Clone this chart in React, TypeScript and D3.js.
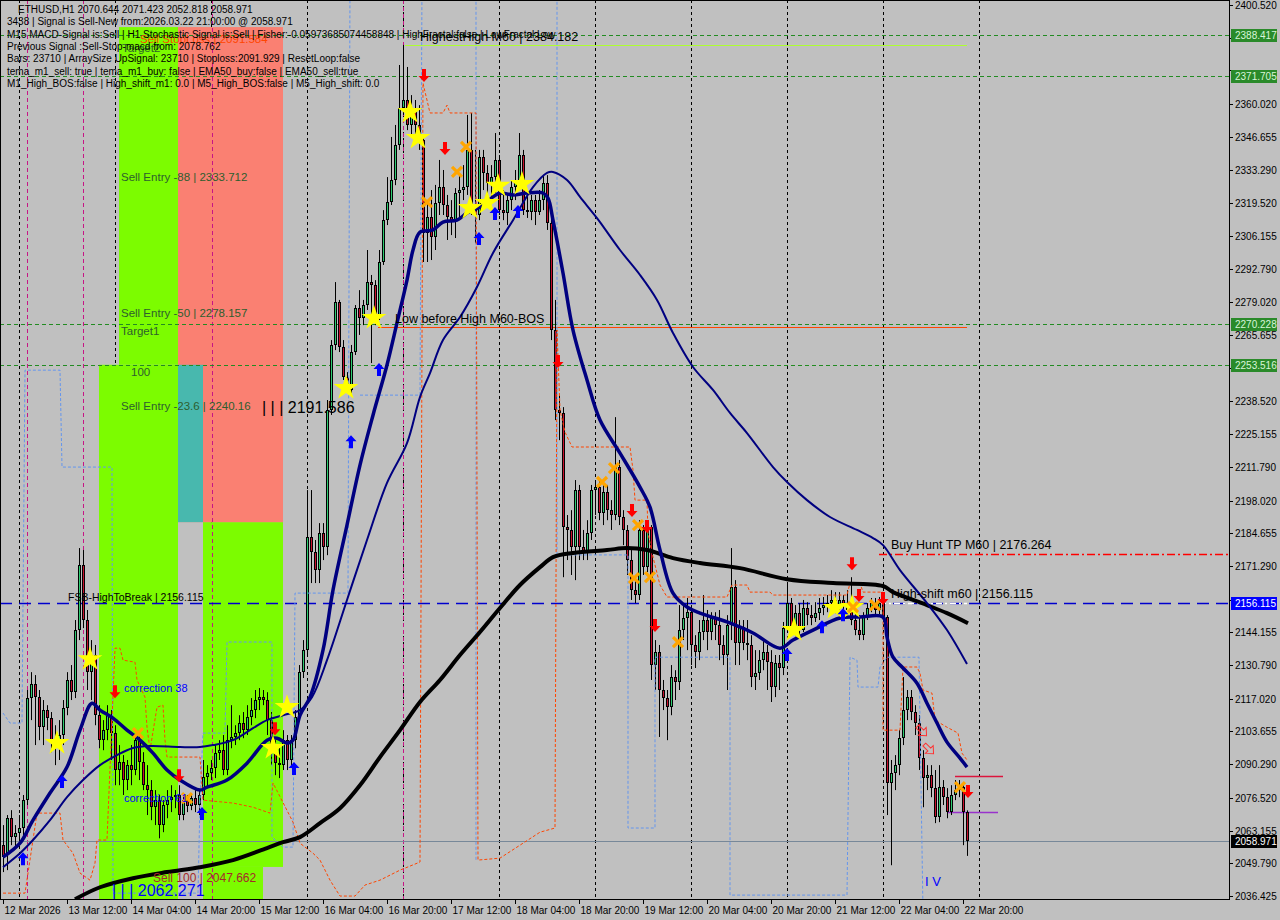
import React, { useEffect, useRef } from 'react';
import * as d3 from 'd3';

const W = 1280;
const H = 920;
const PLOT_R = 1229;
const PLOT_B = 899;

// ETHUSD H1 bars from 12 Mar 20:00 to 22 Mar 21:00 -> [open, high, low, close]
const bars: number[][] = [
  [2057.2, 2065.4, 2046.2, 2052.3], [2053.1, 2069.5, 2047.0, 2068.2], [2068.2, 2071.5, 2057.2, 2060.5], [2060.5, 2065.4, 2056.0, 2062.1],
  [2062.1, 2069.5, 2059.3, 2064.2], [2064.2, 2077.7, 2061.3, 2075.6], [2075.6, 2120.6, 2073.6, 2117.3], [2117.3, 2127.9, 2108.3, 2123.0],
  [2123.0, 2126.7, 2098.1, 2117.7], [2117.7, 2120.6, 2100.1, 2105.4], [2105.4, 2116.5, 2098.1, 2112.4], [2112.4, 2114.4, 2104.2, 2109.1],
  [2109.1, 2111.6, 2095.2, 2100.1], [2100.1, 2106.2, 2089.9, 2098.1], [2098.1, 2108.3, 2092.0, 2102.2], [2102.2, 2116.5, 2098.1, 2113.2],
  [2113.2, 2127.9, 2110.3, 2124.7], [2124.7, 2130.8, 2116.5, 2119.7], [2119.7, 2149.2, 2117.3, 2145.1], [2145.1, 2178.6, 2141.0, 2171.6],
  [2171.6, 2177.8, 2145.9, 2149.2], [2149.2, 2153.3, 2120.6, 2127.9], [2127.9, 2141.0, 2116.5, 2134.9], [2134.9, 2139.0, 2106.2, 2110.3],
  [2110.3, 2114.4, 2096.8, 2100.1], [2100.1, 2108.3, 2096.0, 2104.2], [2104.2, 2114.4, 2100.1, 2110.3], [2110.3, 2112.4, 2092.0, 2103.0],
  [2103.0, 2106.2, 2081.7, 2087.9], [2087.9, 2098.1, 2081.7, 2091.1], [2091.1, 2094.0, 2077.7, 2083.8], [2083.8, 2092.0, 2079.7, 2089.9],
  [2089.9, 2098.1, 2081.7, 2087.9], [2087.9, 2102.2, 2085.8, 2100.1], [2100.1, 2102.2, 2083.8, 2091.1], [2091.1, 2095.2, 2079.7, 2081.7],
  [2081.7, 2089.9, 2069.5, 2079.7], [2079.7, 2083.8, 2067.4, 2072.7], [2072.7, 2079.7, 2065.4, 2075.6], [2075.6, 2077.7, 2060.0, 2065.4],
  [2065.4, 2075.6, 2062.5, 2073.6], [2073.6, 2079.7, 2068.2, 2075.6], [2075.6, 2081.7, 2070.7, 2076.8], [2076.8, 2079.7, 2072.3, 2077.7],
  [2077.7, 2081.7, 2067.4, 2069.5], [2069.5, 2077.7, 2067.4, 2075.6], [2075.6, 2077.7, 2070.7, 2073.2], [2073.2, 2078.5, 2071.5, 2076.4],
  [2076.4, 2079.7, 2070.7, 2073.6], [2073.6, 2079.7, 2069.5, 2077.7], [2077.7, 2092.0, 2075.6, 2085.0], [2085.0, 2089.9, 2080.5, 2086.6],
  [2086.6, 2092.0, 2083.8, 2088.7], [2088.7, 2098.1, 2084.6, 2094.8], [2094.8, 2100.1, 2092.0, 2096.0], [2096.0, 2102.2, 2085.8, 2087.9],
  [2087.9, 2106.2, 2085.8, 2100.1], [2100.1, 2114.4, 2096.8, 2101.4], [2101.4, 2106.2, 2098.1, 2103.0], [2103.0, 2110.3, 2100.1, 2107.1],
  [2107.1, 2111.6, 2100.9, 2104.2], [2104.2, 2114.4, 2102.2, 2109.5], [2109.5, 2117.3, 2106.2, 2112.4], [2112.4, 2120.6, 2109.1, 2116.5],
  [2116.5, 2121.4, 2112.4, 2117.7], [2117.7, 2120.6, 2114.4, 2116.5], [2116.5, 2119.7, 2102.2, 2108.3], [2108.3, 2111.6, 2089.9, 2096.0],
  [2096.0, 2100.1, 2085.8, 2090.7], [2090.7, 2096.9, 2084.6, 2089.9], [2089.9, 2104.2, 2087.9, 2100.1], [2100.1, 2102.2, 2087.9, 2092.0],
  [2092.0, 2102.2, 2088.7, 2100.1], [2100.1, 2112.4, 2096.8, 2109.5], [2109.5, 2130.8, 2108.3, 2127.9], [2127.9, 2141.0, 2125.5, 2136.9],
  [2136.9, 2202.3, 2134.9, 2183.1], [2183.1, 2202.3, 2164.3, 2177.0], [2177.0, 2181.9, 2164.3, 2169.6], [2169.6, 2188.8, 2164.3, 2184.7],
  [2184.7, 2188.8, 2173.7, 2179.0], [2179.0, 2239.1, 2175.7, 2235.0], [2235.0, 2263.6, 2233.0, 2261.6], [2261.6, 2287.3, 2259.5, 2279.2],
  [2279.2, 2280.0, 2258.7, 2260.7], [2260.7, 2263.6, 2247.3, 2248.5], [2248.5, 2250.5, 2242.0, 2243.2], [2243.2, 2261.6, 2241.1, 2258.7],
  [2258.7, 2277.9, 2257.5, 2276.7], [2276.7, 2284.0, 2265.7, 2272.6], [2272.6, 2280.0, 2269.7, 2277.9], [2277.9, 2300.4, 2275.9, 2287.3],
  [2287.3, 2290.2, 2254.2, 2286.1], [2286.1, 2288.1, 2269.7, 2273.8], [2273.8, 2300.4, 2271.8, 2295.5], [2295.5, 2316.7, 2294.3, 2312.6],
  [2312.6, 2330.2, 2310.6, 2320.0], [2320.0, 2346.6, 2318.8, 2329.0], [2329.0, 2351.5, 2326.9, 2343.3], [2343.3, 2376.0, 2341.3, 2358.4],
  [2358.4, 2384.2, 2355.6, 2361.7], [2361.7, 2375.2, 2349.4, 2351.5], [2351.5, 2363.7, 2347.4, 2358.4], [2358.4, 2361.7, 2345.3, 2351.5],
  [2351.5, 2359.6, 2341.3, 2345.3], [2345.3, 2347.4, 2295.5, 2307.3], [2307.3, 2320.8, 2295.5, 2313.9], [2313.9, 2324.9, 2296.3, 2305.7],
  [2305.7, 2327.0, 2300.4, 2319.6], [2319.6, 2337.2, 2314.7, 2326.1], [2326.1, 2333.1, 2314.7, 2318.8], [2318.8, 2322.9, 2304.5, 2313.9],
  [2313.9, 2320.8, 2306.5, 2311.8], [2311.8, 2325.7, 2305.3, 2323.7], [2323.7, 2331.0, 2312.6, 2324.9], [2324.9, 2335.1, 2320.8, 2326.1],
  [2326.1, 2355.6, 2322.9, 2341.3], [2341.3, 2356.4, 2314.7, 2318.0], [2318.0, 2341.3, 2303.2, 2314.7], [2314.7, 2341.3, 2312.6, 2338.4],
  [2338.4, 2341.3, 2324.9, 2331.9], [2331.9, 2335.1, 2322.9, 2327.8], [2327.8, 2335.1, 2320.8, 2330.2], [2330.2, 2348.2, 2323.7, 2337.2],
  [2337.2, 2339.2, 2314.7, 2316.7], [2316.7, 2324.9, 2312.6, 2315.5], [2315.5, 2322.9, 2310.6, 2320.8], [2320.8, 2329.0, 2316.7, 2326.1],
  [2326.1, 2333.1, 2320.8, 2327.8], [2327.8, 2348.2, 2324.9, 2339.2], [2339.2, 2341.3, 2314.7, 2316.7], [2316.7, 2322.9, 2313.5, 2315.9],
  [2315.9, 2322.9, 2312.6, 2320.8], [2320.8, 2322.9, 2310.6, 2315.9], [2315.9, 2324.9, 2314.7, 2320.8], [2320.8, 2331.0, 2316.7, 2327.8],
  [2327.8, 2331.0, 2308.6, 2311.4], [2311.4, 2314.7, 2263.6, 2267.7], [2267.7, 2280.0, 2230.9, 2235.0], [2235.0, 2241.1, 2222.7, 2233.8],
  [2233.8, 2236.2, 2166.7, 2187.2], [2187.2, 2192.1, 2173.7, 2186.0], [2186.0, 2194.1, 2167.6, 2179.0], [2179.0, 2206.4, 2165.5, 2202.3],
  [2202.3, 2204.4, 2173.7, 2179.0], [2179.0, 2186.0, 2173.7, 2177.0], [2177.0, 2190.0, 2173.7, 2184.7], [2184.7, 2204.4, 2181.9, 2202.3],
  [2202.3, 2206.4, 2192.1, 2203.5], [2203.5, 2206.4, 2190.0, 2192.9], [2192.9, 2204.4, 2188.0, 2201.5], [2201.5, 2204.4, 2190.0, 2194.1],
  [2194.1, 2198.2, 2186.0, 2192.1], [2192.1, 2232.1, 2190.0, 2211.7], [2211.7, 2214.6, 2188.0, 2191.3], [2191.3, 2194.1, 2179.8, 2186.0],
  [2186.0, 2188.0, 2167.6, 2173.7], [2173.7, 2177.8, 2157.4, 2161.4], [2161.4, 2167.6, 2156.1, 2159.4], [2159.4, 2190.0, 2157.4, 2186.0],
  [2186.0, 2188.0, 2167.6, 2170.8], [2170.8, 2189.2, 2168.8, 2187.2], [2187.2, 2188.0, 2124.7, 2130.8], [2130.8, 2141.0, 2120.6, 2136.1],
  [2136.1, 2139.0, 2101.4, 2120.6], [2120.6, 2124.7, 2112.4, 2117.3], [2117.3, 2120.6, 2100.1, 2113.6], [2113.6, 2130.8, 2110.3, 2125.9],
  [2125.9, 2128.7, 2116.5, 2123.8], [2123.8, 2155.3, 2120.6, 2145.1], [2145.1, 2155.3, 2141.0, 2150.0], [2150.0, 2158.2, 2136.9, 2152.4],
  [2152.4, 2155.3, 2130.8, 2138.9], [2138.9, 2143.0, 2129.6, 2136.1], [2136.1, 2149.2, 2132.8, 2144.3], [2144.3, 2159.4, 2141.0, 2149.2],
  [2149.2, 2153.3, 2136.9, 2144.3], [2144.3, 2152.4, 2141.0, 2150.0], [2150.0, 2152.4, 2141.0, 2147.1], [2147.1, 2153.3, 2132.8, 2138.9],
  [2138.9, 2143.0, 2130.8, 2134.9], [2134.9, 2151.2, 2120.6, 2147.1], [2147.1, 2178.6, 2141.0, 2162.7], [2162.7, 2165.5, 2130.8, 2139.8],
  [2139.8, 2149.2, 2130.8, 2146.3], [2146.3, 2149.2, 2136.9, 2139.8], [2139.8, 2149.2, 2132.8, 2138.9], [2138.9, 2143.0, 2121.8, 2125.9],
  [2125.9, 2136.9, 2120.6, 2127.5], [2127.5, 2136.9, 2124.7, 2132.8], [2132.8, 2141.0, 2128.7, 2136.1], [2136.1, 2139.0, 2120.6, 2132.0],
  [2132.0, 2136.9, 2115.7, 2121.8], [2121.8, 2134.9, 2117.7, 2131.6], [2131.6, 2134.9, 2120.6, 2129.6], [2129.6, 2148.4, 2126.7, 2145.9],
  [2145.9, 2164.7, 2144.3, 2156.1], [2156.1, 2158.2, 2143.0, 2145.1], [2145.1, 2155.3, 2142.6, 2152.0], [2152.0, 2156.1, 2143.0, 2145.1],
  [2145.1, 2157.4, 2144.3, 2154.1], [2154.1, 2156.5, 2147.1, 2151.2], [2151.2, 2155.3, 2147.1, 2150.0], [2150.0, 2156.5, 2148.4, 2152.0],
  [2152.0, 2158.2, 2149.2, 2154.1], [2154.1, 2158.6, 2151.2, 2155.3], [2155.3, 2159.4, 2152.4, 2156.1], [2156.1, 2161.4, 2152.4, 2157.4],
  [2157.4, 2160.6, 2152.0, 2154.1], [2154.1, 2160.6, 2152.4, 2157.4], [2157.4, 2159.4, 2153.3, 2155.3], [2155.3, 2161.4, 2152.4, 2153.3],
  [2153.3, 2166.7, 2147.1, 2149.2], [2149.2, 2152.4, 2143.0, 2145.1], [2145.1, 2151.2, 2141.0, 2143.0], [2143.0, 2152.4, 2141.0, 2150.4],
  [2150.4, 2156.1, 2149.2, 2154.1], [2154.1, 2158.2, 2152.4, 2156.1], [2156.1, 2158.2, 2151.2, 2153.3], [2153.3, 2158.6, 2151.6, 2156.1],
  [2156.1, 2158.2, 2148.4, 2150.4], [2150.4, 2151.2, 2069.5, 2082.6], [2082.6, 2092.0, 2049.0, 2086.6], [2086.6, 2094.0, 2079.7, 2089.9],
  [2089.9, 2104.2, 2085.8, 2100.9], [2100.9, 2125.9, 2098.1, 2112.4], [2112.4, 2120.6, 2108.3, 2117.7], [2117.7, 2120.6, 2108.3, 2111.6],
  [2111.6, 2114.4, 2102.2, 2107.1], [2107.1, 2110.3, 2087.9, 2092.8], [2092.8, 2096.0, 2072.7, 2084.6], [2084.6, 2089.9, 2079.7, 2085.8],
  [2085.8, 2089.9, 2076.8, 2080.5], [2080.5, 2087.9, 2066.2, 2068.7], [2068.7, 2089.9, 2066.6, 2080.9], [2080.9, 2083.8, 2073.6, 2076.8],
  [2076.8, 2080.5, 2068.2, 2070.7], [2070.7, 2081.7, 2069.5, 2077.7], [2077.7, 2083.8, 2075.6, 2079.7], [2079.7, 2083.8, 2076.8, 2080.9],
  [2080.9, 2082.9, 2057.2, 2070.6], [2070.644, 2071.423, 2052.818, 2058.971],
];

// bottom axis, one label every 16 bars
const timeLabels = [
  '12 Mar 2026', '13 Mar 12:00', '14 Mar 04:00', '14 Mar 20:00', '15 Mar 12:00', '16 Mar 04:00', '16 Mar 20:00', '17 Mar 12:00',
  '18 Mar 04:00', '18 Mar 20:00', '19 Mar 12:00', '20 Mar 04:00', '20 Mar 20:00', '21 Mar 12:00', '22 Mar 04:00', '22 Mar 20:00',
];

const priceTicks = [
  2400.52, 2387.155, 2373.79, 2360.02, 2346.655, 2333.29, 2319.52, 2306.155, 2292.79, 2279.02, 2265.655, 2252.29, 2238.52, 2225.155,
  2211.79, 2198.02, 2184.655, 2171.29, 2157.52, 2144.155, 2130.79, 2117.02, 2103.655, 2090.29, 2076.52, 2063.155, 2049.79, 2036.425,
];

// moving averages, [bar, price]
const fastEma: number[][] = [
  [0, 2052.3], [4.25, 2058.0], [7.5, 2067.4], [11.75, 2078.5], [16, 2089.1], [19.25, 2104.2], [22.25, 2115.2], [24.25, 2112.4],
  [27.5, 2109.1], [31, 2104.2], [34.25, 2100.1], [37.5, 2094.8], [41, 2087.9], [44.25, 2083.8], [49.25, 2079.7], [51, 2080.9],
  [56, 2083.8], [61, 2090.7], [66, 2100.1], [68.5, 2100.9], [71, 2098.9], [72.5, 2100.1], [74.25, 2110.3], [76.75, 2117.7],
  [80, 2136.9], [82.5, 2161.4], [86, 2188.0], [89.25, 2212.5], [92.5, 2232.9], [96, 2253.4], [98.5, 2270.6], [101, 2288.1],
  [102.5, 2300.4], [104.25, 2307.7], [107.5, 2308.6], [110, 2311.8], [113.5, 2312.6], [116, 2315.5], [119.25, 2318.0], [122.5, 2322.1],
  [124.25, 2323.7], [127.5, 2322.9], [131, 2323.7], [135, 2323.7], [136.25, 2321.6], [137.5, 2312.6], [140, 2291.0], [142.5, 2267.7],
  [146, 2247.3], [149.25, 2230.9], [154.25, 2217.4], [159.25, 2203.5], [161.75, 2195.3], [164.25, 2177.8], [167.5, 2160.2], [171, 2154.5],
  [174.25, 2152.0], [181, 2148.4], [187.5, 2143.9], [194.25, 2137.7], [197.5, 2141.0], [202.5, 2145.1], [209.25, 2150.0], [214.25, 2150.4],
  [220, 2150.4], [221, 2142.2], [222.5, 2134.0], [225, 2129.6], [228.5, 2123.4], [231, 2115.2], [233.5, 2107.1], [236, 2099.3],
  [239.25, 2092.8], [241, 2089.1],
];

const slowEma: number[][] = [
  [0, 2048.2], [4.25, 2053.9], [7.5, 2059.3], [11.75, 2067.4], [16, 2076.8], [20, 2083.8], [24.25, 2089.9], [28.5, 2094.0],
  [32.5, 2096.9], [36.75, 2097.7], [44.25, 2097.3], [49.25, 2097.3], [52.5, 2098.1], [57.5, 2100.1], [62.5, 2105.0], [66, 2108.3],
  [70, 2110.3], [74.25, 2112.4], [77.25, 2117.7], [81, 2132.8], [86, 2157.4], [91, 2181.9], [96, 2205.2], [101, 2221.5],
  [104.25, 2240.3], [106.75, 2250.1], [110, 2263.6], [114.25, 2273.0], [118.5, 2285.3], [122.5, 2299.2], [127.5, 2312.6], [132.5, 2326.1],
  [136, 2331.9], [137.5, 2332.3], [141, 2329.0], [144.25, 2322.1], [147.5, 2315.5], [149.25, 2311.8], [154.25, 2300.4], [159.25, 2290.2],
  [163.5, 2280.0], [167.5, 2266.5], [172.5, 2252.6], [177.5, 2243.2], [181.75, 2233.8], [186, 2225.6], [192.5, 2211.7], [196, 2205.6],
  [201, 2198.2], [206.75, 2191.3], [213.5, 2186.0], [217.5, 2182.7], [220, 2179.8], [224.25, 2169.6], [231, 2156.1], [236, 2145.1],
  [241, 2131.2],
];

const ema200: number[][] = [
  [18, 2035.1], [24.25, 2040.0], [32.5, 2043.7], [41, 2046.2], [49.25, 2048.2], [57.5, 2051.1], [66, 2056.0], [70, 2058.4],
  [74.25, 2060.5], [79.25, 2066.2], [84.25, 2072.3], [89.25, 2081.7], [94.25, 2093.2], [99.25, 2104.2], [104.25, 2115.7], [109.25, 2124.7],
  [114.25, 2134.9], [119.25, 2144.3], [124.25, 2154.1], [129.25, 2163.5], [134.25, 2170.8], [137.5, 2174.9], [142.5, 2176.6], [151, 2177.8],
  [156, 2178.6], [161, 2177.8], [167.5, 2174.5], [174.25, 2172.5], [184.25, 2170.4], [196, 2165.9], [207.5, 2164.3], [220, 2163.1],
  [222.5, 2160.6], [231, 2155.3], [236, 2152.0], [241.25, 2147.9],
];

// orange trailing stop (dashed step line)
const trailStop: number[][] = [
  [0, 2037.6], [5.5, 2037.6], [8.5, 2070.3], [14.25, 2070.3], [15, 2059.3], [17.5, 2053.9], [19.25, 2045.8], [21.75, 2042.9],
  [23, 2049.9], [23.5, 2059.3], [26, 2059.3], [28, 2137.7], [29.25, 2137.7], [30, 2132.8], [33, 2132.0], [33.5, 2124.7],
  [35.5, 2117.7], [36, 2105.4], [36.75, 2096.0], [38.5, 2113.6], [40, 2114.4], [40.5, 2100.1], [41, 2093.2], [49.25, 2093.2],
  [50, 2075.6], [57.5, 2074.4], [62.5, 2072.7], [66.75, 2070.3], [67.5, 2082.6], [72.5, 2066.6], [74.25, 2058.0], [77.5, 2053.9],
  [79.25, 2051.1], [81.75, 2042.9], [84.25, 2036.4], [88, 2036.4], [90.5, 2040.9], [94.25, 2042.9], [99.25, 2047.0], [104.25, 2050.3],
  [105, 2368.6], [106.75, 2356.4], [110, 2356.4], [111, 2359.6], [111.75, 2356.4], [118.25, 2356.4], [118.75, 2051.1], [124.25, 2051.9],
  [129.25, 2057.2], [134.25, 2062.5], [138, 2064.2], [138.5, 2267.7], [139.25, 2235.0], [140.5, 2226.0], [142.25, 2219.9], [156.75, 2219.9],
  [157.5, 2210.5], [158, 2198.2], [161, 2198.2], [161.25, 2184.7], [162.5, 2174.9], [164.25, 2163.5], [166, 2158.6], [181, 2158.6],
  [182.25, 2163.5], [186, 2163.5], [186.75, 2160.6], [191.75, 2160.6], [192.5, 2159.4], [211, 2159.4], [211.75, 2164.3], [214.25, 2164.3],
  [215, 2160.6], [220, 2160.6], [220, 2104.2], [224.25, 2104.2], [225, 2130.0], [228.5, 2130.0], [229.25, 2127.5], [230, 2120.6],
  [232.25, 2119.3], [233, 2108.3], [236, 2105.4], [238.75, 2103.0], [239.75, 2094.8], [241, 2092.0],
];

// light blue dashed channel pieces
const channelA: number[][] = [
  [0, 2111.2], [1.75, 2107.1], [4.75, 2107.1], [5.5, 2251.3], [14.25, 2251.3], [14.75, 2211.7], [27.25, 2211.7], [27.5, 2037.6],
  [48.75, 2037.6], [49.25, 2075.6], [50, 2103.0], [55.5, 2103.0], [56, 2140.2], [67.25, 2140.2], [67.25, 2060.5], [70, 2056.4],
  [72.5, 2056.4], [73, 2160.2], [86.25, 2160.2], [86.75, 2410],
];
const channelB: number[][] = [[89.25, 2241.1], [104.25, 2241.1], [104.75, 2410]];
const channelC: number[][] = [[118.25, 2410], [118.25, 2051.1]];
const channelD: number[][] = [
  [138.5, 2410], [138.5, 2175.8], [156.25, 2175.8], [156.25, 2064.2], [163, 2064.2], [163, 2134.0], [181.75, 2134.0], [181.75, 2036.8],
  [211, 2036.8], [211.75, 2134.0], [213.5, 2132.8], [213.75, 2121.8], [218.75, 2121.8], [219.25, 2130.0], [221, 2134.0], [229, 2134.0],
  [230, 2030],
];

// signal markers, [bar, price]
const stars: number[][] = [
  [13.5, 2098.9], [21.75, 2133.2], [67.5, 2096.9], [71, 2113.6], [85.75, 2244.0], [92.75, 2272.6], [101.75, 2356.8], [103.75, 2346.2],
  [116.75, 2317.6], [121, 2319.6], [123.75, 2326.6], [129.75, 2327.4], [197.75, 2145.1], [208, 2154.1], [212.25, 2154.5],
];
const crosses: number[][] = [
  [33.75, 2103.0], [46, 2076.4], [106, 2320.0], [113.5, 2332.3], [115.75, 2342.5], [149.75, 2205.6], [152.75, 2211.3], [158.75, 2188.0],
  [157.75, 2166.3], [161.75, 2166.7], [168.75, 2140.2], [212.5, 2154.5], [218, 2155.3], [239.25, 2080.9],
];
const sellArrows: number[][] = [
  [28, 2119.3], [44, 2085.0], [68, 2104.2], [105.25, 2371.1], [110.5, 2341.3], [138.75, 2254.2], [157.25, 2193.3], [161, 2186.8],
  [163, 2146.3], [212.25, 2171.6], [214, 2158.6], [220, 2157.4], [241.25, 2078.5],
];
const buyArrows: number[][] = [
  [5, 2052.3], [14.75, 2083.8], [49.75, 2070.7], [72.75, 2089.1], [87, 2222.7], [94, 2252.2], [119, 2305.7], [123, 2315.9],
  [128.75, 2316.7], [196, 2135.7], [204.75, 2147.1], [210, 2152.0],
];
const hollowArrows: number[][] = [[230, 2103.4], [231.75, 2096.0]];

// fibo zones [bar from, bar to, top price, bottom price]
const greenZones: number[][] = [
  [29, 43.75, 2391.5, 2253.5], [24, 43.75, 2253.5, 2030], [50, 70, 2189.2, 2048.3], [50, 65, 2048.3, 2030],
];
const salmonZone = [43.75, 70, 2391.5, 2189.2];
const tealZone = [43.75, 50, 2253.5, 2189.2];

const greenLevels = [2388.417, 2371.705, 2270.228, 2253.516];
const highestHigh = 2384.182;
const lowBeforeHigh = 2269.0;
const fslLevel = 2156.115;
const buyHuntTp = 2176.264;
const bid = 2058.971;
const recentHigh = 2085.4;
const recentLow = 2070.7;
const midnightBars = [4, 28, 52, 76, 100, 124, 148, 172, 196, 220, 244];
const markerBars = [6, 20, 52.25, 100];

const infoLines = [
  'ETHUSD,H1  2070.644 2071.423 2052.818 2058.971',
  '3438 | Signal is Sell-New from:2026.03.22 21:00:00 @ 2058.971',
  'M15 MACD-Signal is:Sell | H1 Stochastic Signal is:Sell | Fisher:-0.05973685074458848 | HighFractal:false | LowFractal:Low',
  'Previous Signal :Sell-Stop-macd from: 2078.762',
  'Bars: 23710 | ArraySize UpSignal: 23710 | Stoploss:2091.929 | ResetLoop:false',
  'tema_m1_sell: true | tema_m1_buy: false | EMA50_buy:false | EMA50_sell:true',
  'M1_High_BOS:false | High_shift_m1: 0.0 | M5_High_BOS:false | M5_High_shift: 0.0',
];

// chart object labels: [bar, price, text]
const zoneLabels: [number, number, string][] = [
  [29.5, 2328.6, 'Sell Entry -88 | 2333.712'],
  [29.5, 2273.0, 'Sell Entry -50 | 2278.157'],
  [29.5, 2265.6, 'Target1'],
  [32, 2248.9, '100'],
  [29.5, 2235.0, 'Sell Entry -23.6 | 2240.16'],
  [29.75, 2381.3, 'Target2'],
];
const objectLabels: [number, number, string][] = [
  [104.25, 2385.8, 'HighestHigh   M60 | 2384.182'],
  [98, 2270.6, 'Low before High   M60-BOS'],
  [222, 2178.2, 'Buy Hunt TP M60 | 2176.264'],
  [222, 2158.2, 'High-shift m60 | 2156.115'],
];

const FONT = '"Liberation Sans", Arial, sans-serif';

const App: React.FC = () => {
  const svgRef = useRef<SVGSVGElement>(null);

  useEffect(() => {
    if (!svgRef.current) return;
    const svg = d3.select(svgRef.current);
    svg.selectAll('*').remove();

    const x = d3.scaleLinear().domain([0, 241]).range([3, 967]);
    const y = d3.scaleLinear().domain([2036.425, 2400.52]).range([896, 5]);

    svg.append('rect').attr('width', W).attr('height', H).attr('fill', '#c0c0c0');

    svg.append('defs').append('clipPath').attr('id', 'plot')
      .append('rect').attr('x', 0).attr('y', 0).attr('width', PLOT_R).attr('height', PLOT_B);

    const g = svg.append('g').attr('clip-path', 'url(#plot)');

    // grid (midnights)
    midnightBars.forEach(b => {
      g.append('line')
        .attr('x1', Math.round(x(b)) + 0.5).attr('x2', Math.round(x(b)) + 0.5)
        .attr('y1', 0).attr('y2', PLOT_B)
        .attr('stroke', '#000').attr('stroke-dasharray', '3,3');
    });

    // zones
    const rect = (z: number[], color: string) => {
      g.append('rect')
        .attr('x', x(z[0])).attr('width', x(z[1]) - x(z[0]))
        .attr('y', y(z[2])).attr('height', y(z[3]) - y(z[2]))
        .attr('fill', color);
    };
    greenZones.forEach(z => rect(z, '#7cfc00'));
    rect(salmonZone, '#fa8072');
    rect(tealZone, '#48b8ae');

    // vertical marker lines
    markerBars.forEach(b => {
      g.append('line')
        .attr('x1', Math.round(x(b)) + 0.5).attr('x2', Math.round(x(b)) + 0.5)
        .attr('y1', 0).attr('y2', PLOT_B)
        .attr('stroke', '#c71585').attr('stroke-dasharray', '4,3');
    });

    // horizontal levels
    const hline = (p: number, b0: number | null, b1: number | null, color: string, dash: string | null, w = 1) => {
      const yy = Math.round(y(p)) + 0.5;
      const l = g.append('line')
        .attr('x1', b0 === null ? 0 : x(b0)).attr('x2', b1 === null ? PLOT_R : x(b1))
        .attr('y1', yy).attr('y2', yy)
        .attr('stroke', color).attr('stroke-width', w);
      if (dash) l.attr('stroke-dasharray', dash);
    };
    greenLevels.forEach(p => hline(p, null, null, '#228b22', '4,3'));
    hline(highestHigh, 100.5, 241, '#adff2f', null, 1.2);
    hline(lowBeforeHigh, 93.75, 241, '#ff4500', null, 1.2);
    hline(fslLevel, null, null, '#0000cd', '12,7', 1.3);
    hline(fslLevel, 219.25, 241, '#ffffff', '6,3,2,3', 1.3);
    hline(buyHuntTp, 219, null, '#ff0000', '8,3,2,3', 1.3);
    hline(bid, null, null, '#778899', null, 1);
    hline(recentHigh, 238, 250, '#dc143c', null, 1.3);
    hline(recentLow, 236, 248.75, '#9932cc', null, 1.3);

    // candles
    bars.forEach((b, i) => {
      const [o, hi, lo, c] = b;
      const cx = Math.round(x(i));
      g.append('line')
        .attr('x1', cx + 0.5).attr('x2', cx + 0.5)
        .attr('y1', y(hi)).attr('y2', y(lo))
        .attr('stroke', '#000').attr('stroke-width', 1);
      const top = Math.round(y(Math.max(o, c)));
      const bot = Math.max(top + 2, Math.round(y(Math.min(o, c))));
      g.append('rect')
        .attr('x', cx - 1).attr('y', top).attr('width', 3).attr('height', bot - top)
        .attr('fill', '#000').attr('shape-rendering', 'crispEdges');
      if (bot - top > 2) {
        g.append('rect')
          .attr('x', cx).attr('y', top + 1).attr('width', 1).attr('height', bot - top - 2)
          .attr('fill', c >= o ? '#2ecc71' : '#c8102e').attr('shape-rendering', 'crispEdges');
      }
    });

    // step lines
    const line = d3.line<number[]>().x(d => x(d[0])).y(d => y(d[1]));
    [channelA, channelB, channelC, channelD].forEach(pts => {
      g.append('path').attr('d', line(pts)).attr('fill', 'none')
        .attr('stroke', '#6495ed').attr('stroke-width', 1).attr('stroke-dasharray', '3,2');
    });
    g.append('path').attr('d', line(trailStop)).attr('fill', 'none')
      .attr('stroke', '#ff4500').attr('stroke-width', 1).attr('stroke-dasharray', '3,2');

    // moving averages
    const smooth = d3.line<number[]>().x(d => x(d[0])).y(d => y(d[1])).curve(d3.curveCatmullRom);
    g.append('path').attr('d', smooth(ema200)).attr('fill', 'none').attr('stroke', '#000').attr('stroke-width', 4);
    g.append('path').attr('d', smooth(slowEma)).attr('fill', 'none').attr('stroke', '#000080').attr('stroke-width', 2);
    g.append('path').attr('d', smooth(fastEma)).attr('fill', 'none').attr('stroke', '#000080').attr('stroke-width', 3.5);

    // markers
    const star = d3.symbol().type(d3.symbolStar).size(190)();
    stars.forEach(d => {
      g.append('path').attr('d', star)
        .attr('transform', `translate(${x(d[0])},${y(d[1])})`)
        .attr('fill', '#ffff00');
    });
    crosses.forEach(d => {
      g.append('path').attr('d', 'M-5,-5L5,5M5,-5L-5,5')
        .attr('transform', `translate(${x(d[0])},${y(d[1])})`)
        .attr('stroke', '#ffa500').attr('stroke-width', 3.2).attr('fill', 'none');
    });
    const arrowDown = 'M-2,-8L2,-8L2,-1L5.5,-1L0,5L-5.5,-1L-2,-1Z';
    sellArrows.forEach(d => {
      g.append('path').attr('d', arrowDown)
        .attr('transform', `translate(${x(d[0])},${y(d[1])})`)
        .attr('fill', '#ff0000');
    });
    buyArrows.forEach(d => {
      g.append('path').attr('d', arrowDown)
        .attr('transform', `translate(${x(d[0])},${y(d[1])}) rotate(180)`)
        .attr('fill', '#0000ff');
    });
    hollowArrows.forEach(d => {
      g.append('path').attr('d', arrowDown)
        .attr('transform', `translate(${x(d[0])},${y(d[1])}) rotate(-45)`)
        .attr('fill', 'none').attr('stroke', '#ff3030').attr('stroke-width', 1);
    });

    // object labels
    const label = (b: number, p: number, t: string, color: string, size: number) => {
      g.append('text').attr('x', x(b)).attr('y', y(p))
        .attr('fill', color).style('font-family', FONT).style('font-size', `${size}px`).text(t);
    };
    zoneLabels.forEach(d => label(d[0], d[1], d[2], '#2e5e2e', 11.5));
    label(34.25, 2385.0, 'Sell StopLoss | 2091.584', '#ff4500', 11.5);
    label(64.75, 2233.8, '| | | 2191.586', '#000', 16);
    label(16.25, 2156.9, 'FSB-HighToBreak | 2156.115', '#000', 10.5);
    label(30.25, 2119.8, 'correction 38', '#0000ff', 11);
    label(30.25, 2074.8, 'correction 61', '#0000ff', 11);
    label(37.5, 2042.1, 'Sell 100 | 2047.662', '#a52a2a', 12);
    label(27.25, 2036.4, '| | | 2062.271', '#0000ff', 16);
    label(230.5, 2040.4, 'I V', '#0000ff', 13);
    objectLabels.forEach(d => label(d[0], d[1], d[2], '#000', 12.5));

    // info block
    infoLines.forEach((t, i) => {
      svg.append('text').attr('x', i === 0 ? 18 : 7).attr('y', 13 + i * 12.3)
        .attr('fill', '#000').style('font-family', FONT).style('font-size', '10px').text(t);
    });

    // frame
    svg.append('rect').attr('x', 0.5).attr('y', 0.5).attr('width', PLOT_R).attr('height', PLOT_B)
      .attr('fill', 'none').attr('stroke', '#000');

    // price axis (labels hidden behind a price tag are skipped)
    const tagged = [...greenLevels, fslLevel, bid];
    priceTicks.forEach(p => {
      const yy = Math.round(y(p)) + 0.5;
      svg.append('line').attr('x1', PLOT_R).attr('x2', PLOT_R + 4).attr('y1', yy).attr('y2', yy).attr('stroke', '#000');
      const covered = tagged.some(t => Math.abs(y(t) - y(p)) < 8);
      if (!covered) {
        svg.append('text').attr('x', 1235).attr('y', yy + 3.5)
          .attr('fill', '#000').style('font-family', FONT).style('font-size', '10px').text(p.toFixed(3));
      }
    });
    const tag = (p: number, bg: string, fg: string) => {
      const yy = Math.round(y(p));
      svg.append('rect').attr('x', 1231).attr('y', yy - 6).attr('width', 46).attr('height', 13).attr('fill', bg);
      svg.append('text').attr('x', 1235).attr('y', yy + 4)
        .attr('fill', fg).style('font-family', FONT).style('font-size', '10px').text(p.toFixed(3));
    };
    greenLevels.forEach(p => tag(p, '#2a8a2a', '#d8f5d8'));
    tag(fslLevel, '#0000ff', '#ffffff');
    tag(bid, '#000000', '#ffffff');

    // time axis
    timeLabels.forEach((t, i) => {
      const xx = Math.round(x(i * 16)) + 0.5;
      svg.append('line').attr('x1', xx).attr('x2', xx).attr('y1', PLOT_B).attr('y2', PLOT_B + 5).attr('stroke', '#000');
      svg.append('text').attr('x', xx + 1).attr('y', 914)
        .attr('fill', '#000').style('font-family', FONT).style('font-size', '10px').text(t);
    });
  }, []);

  return (
    <div style={{ position: 'absolute', left: 0, top: 0 }}>
      <svg ref={svgRef} width={W} height={H} style={{ display: 'block' }}></svg>
    </div>
  );
};

export default App;
